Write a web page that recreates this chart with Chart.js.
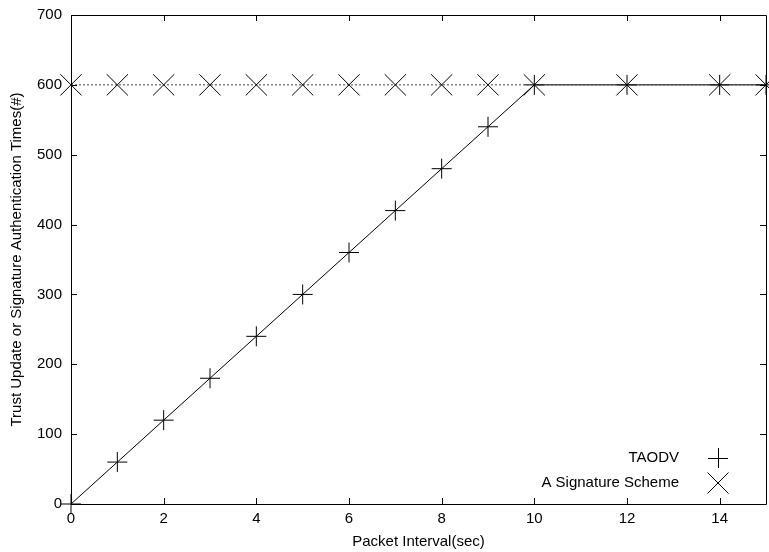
<!DOCTYPE html>
<html>
<head>
<meta charset="utf-8">
<script src="https://cdn.jsdelivr.net/npm/chart.js@4/dist/chart.umd.min.js"></script>
<style>
  body { margin: 0; background: #fff; }
  #wrap { width: 769px; height: 552px; }
</style>
</head>
<body>
<div id="wrap"><canvas id="chart"></canvas></div>
<script>
"use strict";

// values
let packetInterval = [0, 1, 2, 3, 4, 5, 6, 7, 8, 9, 10, 12, 14, 15];
let taodvTimes = [0, 60, 120, 180, 240, 300, 360, 420, 480, 540, 600, 600, 600, 600];
let signatureTimes = [600, 600, 600, 600, 600, 600, 600, 600, 600, 600, 600, 600, 600, 600];

let xTicks = [0, 2, 4, 6, 8, 10, 12, 14];
let yTicks = [0, 100, 200, 300, 400, 500, 600, 700];

let fontFamily = "'Liberation Sans', Arial, sans-serif";

function toPoints(xs, ys) {
    let pts = [];
    for (let i = 0; i < xs.length; i++) {
        pts.push({ x: xs[i], y: ys[i] });
    }
    return pts;
}

// gnuplot style frame with inward ticks on all four sides, plus the key
let framePlugin = {
    id: "frame",
    afterDatasetsDraw(chart) {
        let ctx = chart.ctx;
        let area = chart.chartArea;
        let xs = chart.scales.x;
        let ys = chart.scales.y;
        let len = 6;
        ctx.save();
        ctx.strokeStyle = "#000";
        ctx.lineWidth = 1;
        ctx.beginPath();
        ctx.rect(Math.round(area.left) + 0.5, Math.round(area.top) + 0.5,
            Math.round(area.right - area.left), Math.round(area.bottom - area.top));
        xTicks.forEach(function (v) {
            let px = Math.round(xs.getPixelForValue(v)) + 0.5;
            ctx.moveTo(px, area.bottom);
            ctx.lineTo(px, area.bottom - len);
            ctx.moveTo(px, area.top);
            ctx.lineTo(px, area.top + len);
        });
        yTicks.forEach(function (v) {
            let py = Math.round(ys.getPixelForValue(v)) + 0.5;
            ctx.moveTo(area.left, py);
            ctx.lineTo(area.left + len, py);
            ctx.moveTo(area.right, py);
            ctx.lineTo(area.right - len, py);
        });
        ctx.stroke();

        // key, bottom right inside the plot
        let keyX = Math.round(area.right - 48);
        let rows = [
            { label: "TAODV", y: Math.round(area.bottom - 46), mark: "plus" },
            { label: "A Signature Scheme", y: Math.round(area.bottom - 21), mark: "cross" }
        ];
        ctx.font = "15px " + fontFamily;
        ctx.fillStyle = "#000";
        ctx.textAlign = "right";
        ctx.textBaseline = "middle";
        ctx.beginPath();
        rows.forEach(function (r) {
            ctx.fillText(r.label, keyX - 39, r.y);
            if (r.mark === "plus") {
                ctx.moveTo(keyX - 10, r.y + 0.5);
                ctx.lineTo(keyX + 10, r.y + 0.5);
                ctx.moveTo(keyX + 0.5, r.y - 10);
                ctx.lineTo(keyX + 0.5, r.y + 10);
            } else {
                ctx.moveTo(keyX - 10.5, r.y - 10.5);
                ctx.lineTo(keyX + 10.5, r.y + 10.5);
                ctx.moveTo(keyX + 10.5, r.y - 10.5);
                ctx.lineTo(keyX - 10.5, r.y + 10.5);
            }
        });
        ctx.stroke();
        ctx.restore();
    }
};

let canvas = document.getElementById("chart");

let myChart = new Chart(canvas, {
    "type": "scatter",
    "data": {
        "datasets": [
            {
                "label": "A Signature Scheme",
                "data": toPoints(packetInterval, signatureTimes),
                "showLine": true,
                "borderColor": "#444",
                "borderWidth": 1,
                "borderDash": [2, 2],
                "pointStyle": "crossRot",
                "pointRadius": 15,
                "pointBorderColor": "#000",
                "pointBorderWidth": 1,
                "pointHoverRadius": 15,
                "clip": false
            },
            {
                "label": "TAODV",
                "data": toPoints(packetInterval, taodvTimes),
                "showLine": true,
                "borderColor": "#000",
                "borderWidth": 1,
                "pointStyle": "cross",
                "pointRadius": 10,
                "pointBorderColor": "#000",
                "pointBorderWidth": 1,
                "pointHoverRadius": 10,
                "clip": false
            }
        ]
    },
    "options": {
        responsive: true,
        maintainAspectRatio: false,
        animation: false,
        events: [],
        layout: { autoPadding: false, padding: { top: 15, right: 3, left: 0, bottom: 0 } },
        plugins: {
            legend: { display: false },
            tooltip: { enabled: false }
        },
        scales: {
            x: {
                type: "linear",
                min: 0,
                max: 15,
                afterBuildTicks: function (scale) {
                    scale.ticks = xTicks.map(function (v) { return { value: v }; });
                },
                afterFit: function (scale) {
                    scale.height = 48;
                    scale.paddingLeft = 0;
                    scale.paddingRight = 0;
                },
                grid: { display: false, drawTicks: false },
                border: { display: false },
                ticks: {
                    color: "#000",
                    padding: 6,
                    maxRotation: 0,
                    font: { family: fontFamily, size: 15 }
                },
                title: {
                    display: true,
                    text: "Packet Interval(sec)",
                    color: "#000",
                    padding: { top: 0, bottom: 1 },
                    font: { family: fontFamily, size: 15 }
                }
            },
            y: {
                type: "linear",
                min: 0,
                max: 700,
                afterBuildTicks: function (scale) {
                    scale.ticks = yTicks.map(function (v) { return { value: v }; });
                },
                afterFit: function (scale) {
                    scale.width = 71;
                    scale.paddingTop = 0;
                    scale.paddingBottom = 0;
                },
                grid: { display: false, drawTicks: false },
                border: { display: false },
                ticks: {
                    color: "#000",
                    padding: 9,
                    font: { family: fontFamily, size: 15 }
                },
                title: {
                    display: true,
                    text: "Trust Update or Signature Authentication Times(#)",
                    color: "#000",
                    padding: { top: 8, bottom: 0 },
                    font: { family: fontFamily, size: 15 }
                }
            }
        }
    },
    plugins: [framePlugin]
});
</script>
</body>
</html>
